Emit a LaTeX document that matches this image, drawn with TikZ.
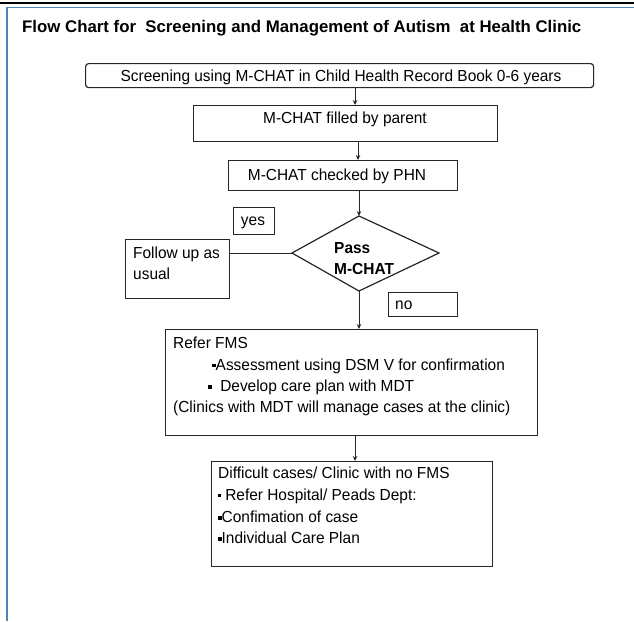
\documentclass[tikz,border=0pt]{standalone}
\usepackage{fontspec}
\setmainfont{Liberation Sans}[FakeStretch=0.965]
\newfontfamily\titlefont{Liberation Sans}
\usetikzlibrary{arrows.meta}
\definecolor{frameblue}{HTML}{4F81BD}
\definecolor{boxline}{HTML}{262626}
\newcommand{\sqbul}{\raisebox{3pt}{\rule{3.5pt}{3.5pt}}}
\newcommand{\dotbul}{\raisebox{3.5pt}{\rule{2.8pt}{2.8pt}}}
\begin{document}
\begin{tikzpicture}[x=1pt,y=-1pt,
  box/.style={draw=boxline,line width=1.2pt,inner sep=0pt,anchor=north west},
  txt/.style={inner sep=0pt,anchor=base,font=\fontsize{16}{19}\selectfont,text=black},
  lefttxt/.style={txt,anchor=base west},
  boldtxt/.style={lefttxt,font=\bfseries\fontsize{16}{19}\selectfont},
  conn/.style={draw=boxline,line width=1pt},
  arr/.style={conn,-{Stealth[length=5pt,width=4.5pt]}}]
\useasboundingbox (0,0) rectangle (634,621);
% frame
\draw[line width=2pt,black] (0,2.5) -- (634,2.5);
\draw[line width=1.6pt,frameblue] (7,7.5) -- (634,7.5);
\draw[line width=1.6pt,frameblue] (7,7) -- (7,621);
% title
\node[inner sep=0pt,anchor=base west,font=\titlefont\bfseries\fontsize{16.8}{19}\selectfont] (title) at (22,32) {Flow Chart for\ \ Screening and Management of Autism\ \ at Health Clinic};
% boxes
\node[box,rounded corners=3pt,minimum width=508pt,minimum height=24pt] (b1) at (85,63) {};
\node[txt] (t1) at (341,81) {Screening using M-CHAT in Child Health Record Book 0-6 years};
\node[box,minimum width=304pt,minimum height=36pt] (b2) at (193,105) {};
\node[txt] (t2) at (345,123.5) {M-CHAT filled by parent};
\node[box,minimum width=229pt,minimum height=30pt] (b3) at (228,160) {};
\node[txt] (t3) at (337,180.5) {M-CHAT checked by PHN};
% yes / no labels
\node[box,minimum width=41pt,minimum height=27pt] (yesb) at (233,207) {};
\node[txt] (yest) at (253,225) {yes};
\node[box,minimum width=69pt,minimum height=24pt] (nob) at (388,292) {};
\node[lefttxt] (not) at (395,309.5) {no};
% follow up
\node[box,minimum width=104pt,minimum height=59pt] (fu) at (125,239) {};
\node[lefttxt] (fut1) at (133,258.5) {Follow up as};
\node[lefttxt] (fut2) at (133,279.5) {usual};
% diamond
\coordinate (dtop) at (359,216);
\coordinate (dbot) at (359,291);
\coordinate (dleft) at (292,253);
\coordinate (dright) at (439,253);
\draw[draw=boxline,line width=1.2pt] (dtop) -- (dright) -- (dbot) -- (dleft) -- cycle;
\node[boldtxt] (dt1) at (334,253.5) {Pass};
\node[boldtxt] (dt2) at (334,274.5) {M-CHAT};
% refer FMS
\node[box,minimum width=372pt,minimum height=106pt] (rf) at (165,329) {};
\node[lefttxt] (rf1) at (173,348.5) {Refer FMS};
\node[lefttxt] (rf2) at (212,370) {\sqbul Assessment using DSM V for confirmation};
\node[lefttxt] (rf3) at (208,391.5) {\sqbul\ \ Develop care plan with MDT};
\node[lefttxt] (rf4) at (173,412.5) {(Clinics with MDT will manage cases at the clinic)};
% difficult cases
\node[box,minimum width=281pt,minimum height=105pt] (dc) at (211,461) {};
\node[lefttxt] (dc1) at (218,478.5) {Difficult cases/ Clinic with no FMS};
\node[lefttxt] (dc2) at (218,500.5) {\dotbul\ Refer Hospital/ Peads Dept:};
\node[lefttxt] (dc3) at (218,522.5) {\sqbul Confimation of case};
\node[lefttxt] (dc4) at (218,543.5) {\sqbul Individual Care Plan};
% connectors
\draw[arr] (b1.south -| 355,0) -- (b2.north -| 355,0);
\draw[arr] (b2.south -| 358,0) -- (b3.north -| 358,0);
\draw[arr] (b3.south -| dtop) -- (dtop);
\draw[conn] (fu.east |- dleft) -- (dleft);
\draw[arr] (dbot) -- (rf.north -| dbot);
\draw[arr] (rf.south -| 355,0) -- (dc.north -| 355,0);
\end{tikzpicture}
\end{document}
